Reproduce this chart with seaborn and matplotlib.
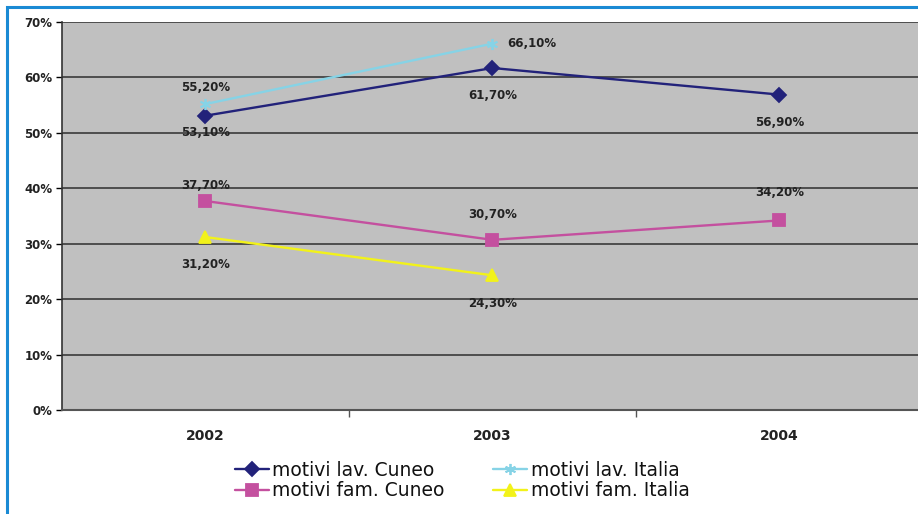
import matplotlib
matplotlib.use("Agg")
import matplotlib.pyplot as plt
from matplotlib.patches import Rectangle
import seaborn as sns
import pandas as pd

years = ["2002", "2003", "2004"]
y_ticks = [0, 10, 20, 30, 40, 50, 60, 70]
series_names = ["motivi lav. Cuneo", "motivi lav. Italia",
                "motivi fam. Cuneo", "motivi fam. Italia"]
lav_cuneo = [53.1, 61.7, 56.9]
lav_italia = [55.2, 66.1]
fam_cuneo = [37.7, 30.7, 34.2]
fam_italia = [31.2, 24.3]
all_values = [lav_cuneo, lav_italia, fam_cuneo, fam_italia]

colors = ["#22227a", "#86d3e6", "#c4509f", "#f2f21a"]
markers = ["D", (6, 2, 0), "s", "^"]
marker_sizes = [7, 8, 8, 8]
# value-label offsets in points, one per point of each series
label_offsets = [
    [(0, -12), (0, -20), (0, -20)],
    [(0, 12), (28, 0)],
    [(0, 11), (0, 18), (0, 20)],
    [(0, -20), (0, -20)],
]

sns.set_theme(style="white")
plt.rcParams["font.family"] = ["DejaVu Sans"]

fig = plt.figure(figsize=(9.18, 5.14), dpi=100)
fig.patch.set_facecolor("white")
ax = fig.add_axes([62 / 918, 104 / 514, 861 / 918, 388 / 514])
ax.set_facecolor("#c0c0c0")

for name, vals, c, m, ms in zip(series_names, all_values, colors, markers, marker_sizes):
    d = pd.DataFrame({"x": list(range(len(vals))), "valore": vals})
    sns.lineplot(data=d, x="x", y="valore", color=c, marker=m,
                 markersize=ms, markeredgecolor=c, markeredgewidth=1.3,
                 linewidth=1.7, label=name, ax=ax)

ax.set_xlim(-0.5, 2.5)
ax.set_ylim(0, 70)
ax.set_yticks(y_ticks)
ax.set_yticklabels([f"{t}%" for t in y_ticks], fontsize=8.5, fontweight="bold",
                   color="#222222")
ax.set_xticks(range(len(years)))
ax.set_xticklabels(years, fontsize=10, fontweight="bold", color="#222222")
ax.tick_params(axis="x", length=0, pad=14)
ax.tick_params(axis="y", length=4, width=1, color="black", left=True, pad=3)
ax.set_xticks([0.5, 1.5], minor=True)
ax.tick_params(axis="x", which="minor", length=5, width=1, color="#555555", bottom=True)
ax.set_xlabel("")
ax.set_ylabel("")
ax.grid(axis="y", color="#3a3a3a", linewidth=1.2)
ax.set_axisbelow(True)
for side in ["top", "right"]:
    ax.spines[side].set_visible(False)
ax.spines["left"].set_color("#333333")
ax.spines["left"].set_linewidth(1.2)
ax.spines["bottom"].set_color("#555555")
ax.spines["bottom"].set_linewidth(1.5)

for vals, offs in zip(all_values, label_offsets):
    for i, (v, off) in enumerate(zip(vals, offs)):
        txt = f"{v:.2f}".replace(".", ",") + "%"
        ax.annotate(txt, (i, v), xytext=off, textcoords="offset points",
                    ha="center", va="center", fontsize=8.5, fontweight="bold",
                    color="#222222")

handles, labels = ax.get_legend_handles_labels()
order = [0, 2, 1, 3]
ax.legend([handles[k] for k in order], [labels[k] for k in order],
          loc="upper center", bbox_to_anchor=(0.465, -0.112),
          ncol=2, frameon=False, fontsize=13.5, handlelength=1.8,
          handletextpad=0.2, columnspacing=2.6, labelspacing=0.08,
          borderaxespad=0, labelcolor="#111111")

# blue frame around the chart
fig.patches.append(Rectangle((7 / 918, -0.1), 1.2, (514 - 7) / 514 + 0.1,
                             transform=fig.transFigure, fill=False,
                             edgecolor="#1a8ad4", linewidth=2.2, zorder=10))

fig.savefig("out.png", dpi=100, facecolor="white")
